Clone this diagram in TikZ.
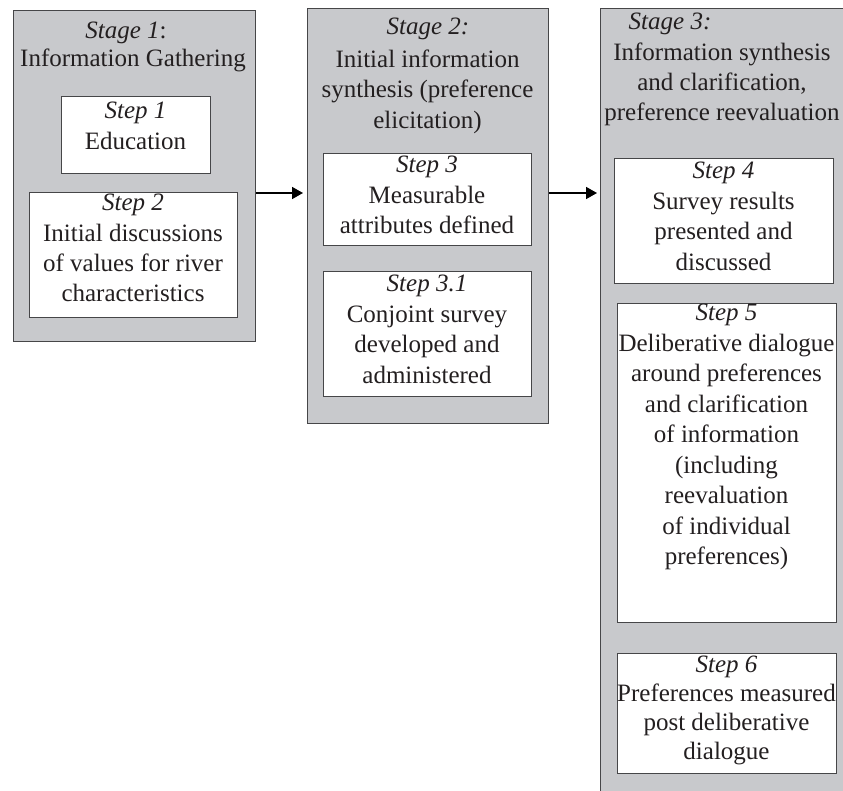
\documentclass[tikz,border=0pt]{standalone}
\usepackage{fontspec}
\setmainfont{Liberation Serif}
\usetikzlibrary{arrows.meta}

\definecolor{panelgray}{RGB}{200,201,204}
\definecolor{edgegray}{RGB}{70,70,72}
\definecolor{ink}{RGB}{35,31,32}

\tikzset{
  stagebox/.style={draw=edgegray, fill=panelgray, line width=1.4pt, inner sep=0pt, anchor=north west},
  stepbox/.style={draw=edgegray, fill=white, line width=1.4pt, inner sep=0pt, anchor=north west},
  boxtext/.style={font=\fontsize{25}{30.5}\selectfont, text=ink, align=center, inner sep=0pt, anchor=north},
  linetext/.style={font=\fontsize{25}{30.5}\selectfont, text=ink, inner sep=0pt, anchor=base},
  flow/.style={-{Triangle[length=11pt,width=12pt]}, line width=1.6pt, draw=black}
}

\begin{document}
\begin{tikzpicture}[x=1pt, y=-1pt]
\useasboundingbox (0,0) rectangle (843,791);

% ---------- Stage 1 ----------
\node[stagebox, minimum width=242pt, minimum height=331pt] (stage1) at (13,10) {};
\node[linetext] (stage1head) at (126,39) {\textit{Stage 1}:};
\node[linetext] (stage1title) at (133,67) {Information Gathering};

\node[stepbox, minimum width=149pt, minimum height=77pt] (step1) at (61,96) {};
\node[boxtext] (step1text) at (135.5,102) {\textit{Step 1}\\Education};

\node[stepbox, minimum width=208pt, minimum height=125pt] (step2) at (29,192) {};
\node[boxtext, font=\fontsize{25}{30.3}\selectfont] (step2text) at (133,194)
  {\textit{Step 2}\\Initial discussions\\of values for river\\characteristics};

% ---------- Stage 2 ----------
\node[stagebox, minimum width=241pt, minimum height=415pt] (stage2) at (307,8) {};
\node[linetext] (stage2head) at (428,35) {\textit{Stage 2:}};
\node[boxtext] (stage2title) at (427.5,49.5)
  {Initial information\\synthesis (preference\\elicitation)};

\node[stepbox, minimum width=208pt, minimum height=92pt] (step3) at (323,153) {};
\node[boxtext] (step3text) at (427,156)
  {\textit{Step 3}\\Measurable\\attributes defined};

\node[stepbox, minimum width=208pt, minimum height=125pt] (step31) at (323,271) {};
\node[boxtext] (step31text) at (427,275)
  {\textit{Step 3.1}\\Conjoint survey\\developed and\\administered};

% ---------- Stage 3 (runs past the page edge) ----------
\node[stagebox, minimum width=270pt, minimum height=810pt] (stage3) at (600,8) {};
\node[linetext] (stage3head) at (670,30) {\textit{Stage 3:}};
\node[boxtext, font=\fontsize{25}{30}\selectfont] (stage3title) at (722,43)
  {Information synthesis\\and clarification,\\preference reevaluation};

\node[stepbox, minimum width=219pt, minimum height=125pt] (step4) at (614,158) {};
\node[boxtext] (step4text) at (723.5,162)
  {\textit{Step 4}\\Survey results\\presented and\\discussed};

\node[stepbox, minimum width=219pt, minimum height=319pt] (step5) at (617,303) {};
\node[boxtext] (step5text) at (726.5,304)
  {\textit{Step 5}\\Deliberative dialogue\\around preferences\\and clarification\\of information\\(including\\reevaluation\\of individual\\preferences)};

\node[stepbox, minimum width=219pt, minimum height=120pt] (step6) at (617,653) {};
\node[boxtext, font=\fontsize{25}{29}\selectfont] (step6text) at (726.5,656)
  {\textit{Step 6}\\Preferences measured\\post deliberative\\dialogue};

% ---------- Connectors between stages ----------
\coordinate (arrowrow) at (0,193);
\draw[flow] (stage1.east |- arrowrow) -- ([xshift=-4pt]stage2.west |- arrowrow);
\draw[flow] (stage2.east |- arrowrow) -- ([xshift=-3pt]stage3.west |- arrowrow);
\end{tikzpicture}
\end{document}
